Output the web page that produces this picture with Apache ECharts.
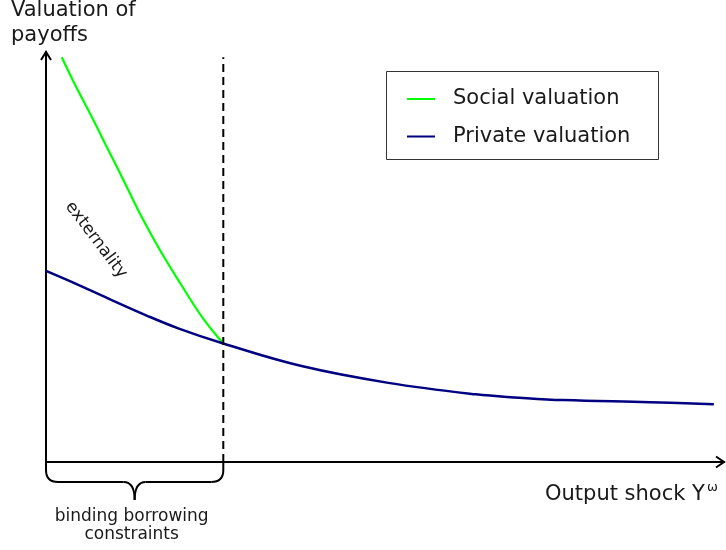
<!DOCTYPE html>
<html><head><meta charset="utf-8">
<script src="https://cdn.jsdelivr.net/npm/echarts@6.0.0/dist/echarts.min.js"></script>
<style>html,body{margin:0;padding:0;background:#fff}#c{width:726px;height:550px}</style>
</head><body><div id="c"></div>
<script>
const seriesNames = ['Social valuation', 'Private valuation'];
const socialX = [2.32, 4.17, 6.74, 9.19, 11.65, 14.1, 16.8, 19.8, 23.0, 26.15];
const socialY = [98.7, 92.4, 84.2, 76.1, 68.0, 59.8, 51.7, 43.6, 35.4, 28.9];
const privateX = [0, 4.76, 9.69, 14.6, 19.5, 26.15, 37.7, 50.5, 63.4, 69.8, 76.3, 89.1, 98.5];
const privateY = [46.6, 43.2, 39.5, 35.9, 32.6, 28.9, 23.4, 19.3, 16.5, 15.7, 15.1, 14.6, 14.1];
const constraintX = [26.15, 26.15];
const constraintY = [0, 98.7];
const yAxisTitle = ['Valuation of', 'payoffs'];
const xAxisTitle = 'Output shock Y';
const xAxisSup = 'ω';
const annotationText = 'externality';
const braceLabel = ['binding borrowing', 'constraints'];

const FONT = 'DejaVu Sans';
const zip = (xs, ys) => xs.map((x, i) => [x, ys[i]]);

const chart = echarts.init(document.getElementById('c'), null, {renderer: 'canvas'});
const axisCommon = {
  type: 'value', min: 0, max: 100,
  axisLine: {show: true, onZero: false, lineStyle: {color: '#000', width: 2}},
  axisTick: {show: false}, axisLabel: {show: false}, splitLine: {show: false}
};
chart.setOption({
  animation: false,
  backgroundColor: '#fff',
  grid: {left: 46, right: 2, top: 52, bottom: 88},
  xAxis: axisCommon,
  yAxis: axisCommon,
  legend: {
    data: seriesNames,
    orient: 'vertical',
    left: 402, top: 82,
    icon: 'rect', itemWidth: 28, itemHeight: 2, itemGap: 13.5,
    textStyle: {fontFamily: FONT, fontSize: 21, color: '#1a1a1a', lineHeight: 24, padding: [0, 0, 0, 13]}
  },
  series: [
    {name: seriesNames[0], type: 'line', data: zip(socialX, socialY), smooth: 0.4, showSymbol: false,
     lineStyle: {color: '#00ff00', width: 2.2}, itemStyle: {color: '#00ff00'}, z: 2},
    {name: seriesNames[1], type: 'line', data: zip(privateX, privateY), smooth: 0.4, showSymbol: false,
     lineStyle: {color: '#000080', width: 2.5}, itemStyle: {color: '#000080'}, z: 3},
    {name: 'cutoff', type: 'line', data: zip(constraintX, constraintY), showSymbol: false,
     lineStyle: {color: '#000', width: 2, type: [8, 5]}, z: 4}
  ]
});

const p0 = chart.convertToPixel({gridIndex: 0}, [0, 0]);
const pTop = chart.convertToPixel({gridIndex: 0}, [0, 100]);
const pRight = chart.convertToPixel({gridIndex: 0}, [100, 0]);
const pCut = chart.convertToPixel({gridIndex: 0}, [constraintX[0], 0]);
const ax = p0[0], ay = p0[1], cx = pCut[0];
const mid = (ax + cx) / 2;
const by = ay + 20;
const bStyle = {stroke: '#000', lineWidth: 2, fill: null};
const seg = (x1, y1, x2, y2) => ({type: 'line', shape: {x1, y1, x2, y2}, style: bStyle});
const qc = (x1, y1, cpx1, cpy1, x2, y2) => ({type: 'bezierCurve', shape: {x1, y1, x2, y2, cpx1, cpy1}, style: bStyle});
const brace = [
  seg(ax, ay, ax, ay + 8),
  qc(ax, ay + 8, ax, by, ax + 12, by),
  seg(ax + 12, by, mid - 11, by),
  qc(mid - 11, by, mid, by, mid, by + 18),
  qc(mid, by + 18, mid, by, mid + 11, by),
  seg(mid + 11, by, cx - 12, by),
  qc(cx - 12, by, cx, by, cx, ay + 8),
  seg(cx, ay + 8, cx, ay)
];

const txt = (x, y, text, size, align) => ({
  type: 'text', x: x, y: y,
  style: {text: text, fontFamily: FONT, fontSize: size, fill: '#1a1a1a', align: align || 'left', verticalAlign: 'middle'}
});

chart.setOption({
  graphic: [
    {type: 'polyline', shape: {points: [[pTop[0] - 5, pTop[1] + 8], [pTop[0], pTop[1]], [pTop[0] + 5, pTop[1] + 8]]},
     style: {stroke: '#000', lineWidth: 2, fill: null}},
    {type: 'polyline', shape: {points: [[pRight[0] - 8, pRight[1] - 5.5], [pRight[0], pRight[1]], [pRight[0] - 8, pRight[1] + 5.5]]},
     style: {stroke: '#000', lineWidth: 2, fill: null}},
    {type: 'rect', shape: {x: 386.5, y: 71.5, width: 272, height: 88},
     style: {stroke: '#333', lineWidth: 1, fill: null}},
    ...brace,
    txt(11, 10.7, yAxisTitle[0], 21),
    txt(11, 35.7, yAxisTitle[1], 21),
    txt(545, 494.4, xAxisTitle, 21),
    txt(707, 488, xAxisSup, 13),
    txt(mid - 3, 516.5, braceLabel[0], 17, 'center'),
    txt(mid - 3, 535, braceLabel[1], 17, 'center'),
    {type: 'text', x: 96, y: 240, rotation: -53 * Math.PI / 180,
     style: {text: annotationText, fontFamily: FONT, fontSize: 17, fill: '#1a1a1a', align: 'center', verticalAlign: 'middle'}}
  ]
});
</script></body></html>
